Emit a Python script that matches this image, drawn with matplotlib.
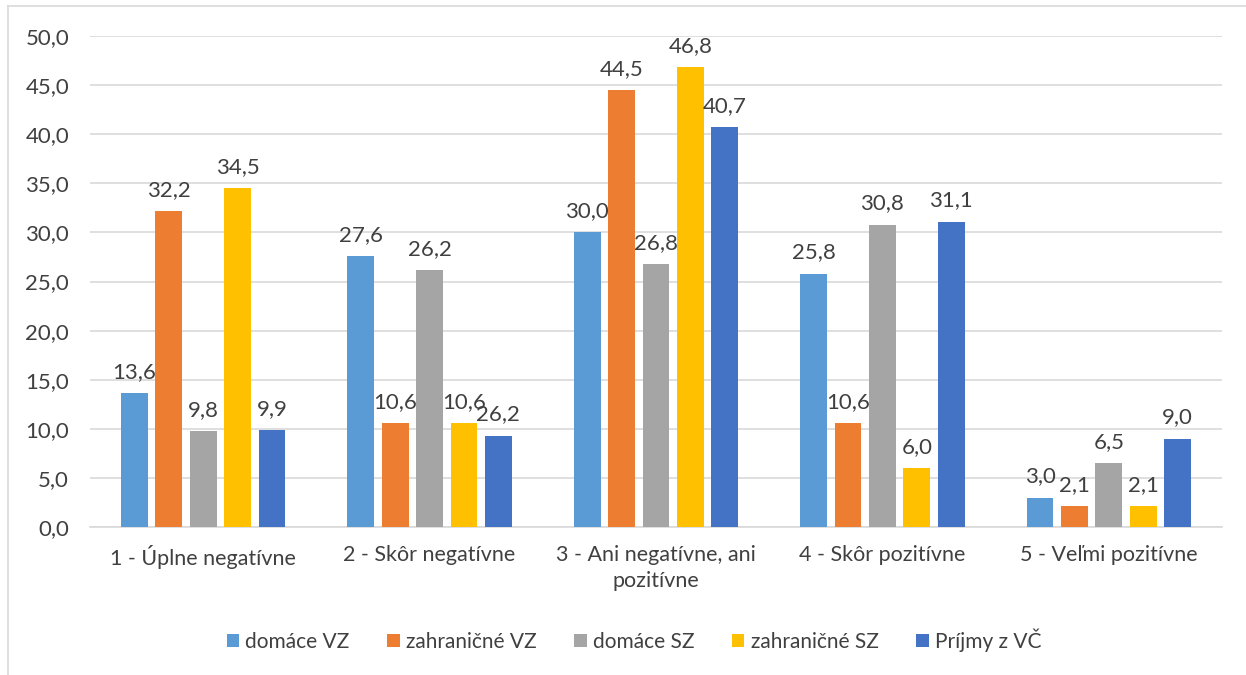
import matplotlib
matplotlib.use("Agg")
import matplotlib.pyplot as plt
from matplotlib.lines import Line2D
from matplotlib.ticker import FuncFormatter
import numpy as np

categories = ["1 - Úplne negatívne", "2 - Skôr negatívne", "3 - Ani negatívne, ani\npozitívne",
              "4 - Skôr pozitívne", "5 - Veľmi pozitívne"]
series_names = ["domáce VZ", "zahraničné VZ", "domáce SZ", "zahraničné SZ", "Príjmy z VČ"]
domace_vz = [13.6, 27.6, 30.0, 25.8, 3.0]
zahranicne_vz = [32.2, 10.6, 44.5, 10.6, 2.1]
domace_sz = [9.8, 26.2, 26.8, 30.8, 6.5]
zahranicne_sz = [34.5, 10.6, 46.8, 6.0, 2.1]
prijmy_vc = [9.9, 9.3, 40.7, 31.1, 9.0]
prijmy_vc_labels = ["9,9", "26,2", "40,7", "31,1", "9,0"]
colors = ["#5B9BD5", "#ED7D31", "#A5A5A5", "#FFC000", "#4472C4"]

series = [domace_vz, zahranicne_vz, domace_sz, zahranicne_sz, prijmy_vc]

plt.rcParams['font.family'] = ['Lato', 'DejaVu Sans']
txt_color = "#404040"

fig = plt.figure(figsize=(12.46, 6.75), dpi=100)
ax = fig.add_axes([90/1246, 1-527/675, (1222-90)/1246, (527-36)/675])

x = np.arange(len(categories))
width = 0.119
pitch = 0.152
for i, (vals, name, c) in enumerate(zip(series, series_names, colors)):
    pos = x + (i - 2) * pitch
    bars = ax.bar(pos, vals, width, color=c, label=name, zorder=3)
    if i == 4:
        labels = prijmy_vc_labels
    else:
        labels = [f"{v:.1f}".replace(".", ",") for v in vals]
    for b, lab in zip(bars, labels):
        ax.annotate(lab, (b.get_x() + b.get_width() / 2, b.get_height()),
                    xytext=(0, 8), textcoords="offset points", ha="center", va="bottom",
                    fontsize=16, color=txt_color)

ax.set_ylim(0, 50)
ax.set_xlim(-0.5, len(categories) - 0.5)
ax.set_yticks(np.arange(0, 51, 5))
ax.yaxis.set_major_formatter(FuncFormatter(lambda v, p: f"{v:.1f}".replace(".", ",")))
ax.set_xticks(x)
ax.set_xticklabels(categories, linespacing=1.35)
ax.tick_params(axis="x", length=0, labelsize=15.5, labelcolor=txt_color, pad=13)
ax.tick_params(axis="y", length=0, labelsize=16, labelcolor=txt_color, pad=15)
ax.grid(axis="y", color="#D9D9D9", linewidth=1.2, zorder=0)
for s in ["top", "right", "left"]:
    ax.spines[s].set_visible(False)
ax.spines["bottom"].set_color("#D9D9D9")
ax.spines["bottom"].set_linewidth(1.2)

leg = fig.legend(loc="center", bbox_to_anchor=(634/1246, 1-640/675), ncol=5, frameon=False,
                 fontsize=15, handlelength=0.6, handleheight=0.6, handletextpad=0.3,
                 columnspacing=1.8)
for t in leg.get_texts():
    t.set_color(txt_color)

# chart area border
fig.add_artist(Line2D([8/1246, 1], [1-6/675, 1-6/675], color="#D9D9D9", linewidth=1.2))
fig.add_artist(Line2D([8/1246, 8/1246], [0, 1-6/675], color="#D9D9D9", linewidth=1.2))

fig.savefig("out.png", dpi=100)
